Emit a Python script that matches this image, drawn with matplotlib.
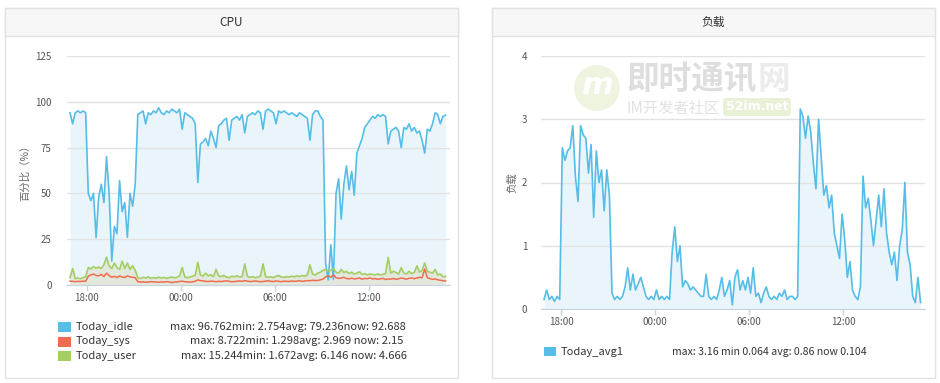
import numpy as np
import pandas as pd
import matplotlib
matplotlib.use('Agg')
from matplotlib import pyplot as plt
from matplotlib import patches
import matplotlib.dates as mdates

plt.rcParams['font.family'] = ['Noto Sans CJK SC', 'DejaVu Sans']

# samples every 10 minutes, 16:55 -> 16:55 next day
times = pd.date_range('2016-05-10 16:55', periods=145, freq='10min')

cpu_idle = [94, 88, 94, 95, 94, 95, 94,
            50, 46, 50, 26, 48, 55, 45, 70, 50, 13, 32, 28, 57, 40, 45, 26, 50, 43, 55,
            93, 94, 95, 88, 94, 93, 95, 94, 96.762, 94, 93, 95, 94, 96, 95, 94, 96,
            85, 94, 93, 92, 91, 88,
            56, 77, 78, 80, 76, 84, 80, 75, 87, 88, 90, 91, 79, 90, 91, 92, 90, 93,
            83, 92, 93, 94, 93, 95, 94, 85, 95, 96, 95, 94, 88, 95, 94, 95, 94, 93, 94, 93, 92, 94, 93, 92, 91,
            79, 93, 95, 95, 92, 90,
            12, 2.754, 22, 3, 50, 58, 36, 55, 65, 52, 62, 49, 72, 76, 80, 86, 88, 90, 92, 91,
            93, 92, 93, 92, 77, 84, 85, 86, 84, 75, 86, 85, 88, 84, 86, 83, 84, 79, 72, 85,
            84, 88, 94, 93, 88, 92, 92.688]

cpu_sys = [2.1, 2.0, 1.8, 2.0, 1.9, 2.1, 2.0,
           4.8, 5.5, 6.0, 5.2, 5.0, 5.8, 4.6, 6.5, 5.2, 4.2, 4.8, 4.0, 5.0, 4.3, 4.1, 5.0, 4.4, 4.2, 4.0,
           1.8, 1.6, 1.7, 1.5, 1.6, 1.8, 1.7, 1.6, 1.5, 1.7,
           1.6, 1.8, 1.7, 1.298, 1.6, 1.7, 1.9, 2.1, 1.8, 1.7,
           1.6, 1.8, 2.0, 2.8, 2.4, 2.2, 2.0, 1.9, 2.1, 2.0,
           1.8, 2.0, 1.9, 2.1, 2.3, 2.0, 1.8, 1.9, 2.0, 2.2,
           2.0, 2.4, 2.1, 1.9, 2.0, 2.2, 2.0, 1.8, 1.9, 2.1,
           2.3, 2.0, 1.9, 2.2, 2.0, 1.8, 2.1, 2.0, 1.9, 2.2,
           2.0, 2.1, 2.3, 2.0, 2.2, 2.4, 2.3, 2.6, 2.4, 2.5, 2.8, 3.2,
           4.5, 5.0, 4.2, 5.5, 4.0, 3.6, 3.8, 4.2, 3.5, 3.4,
           3.7, 3.3, 3.5, 3.8, 3.2, 3.6, 3.4, 3.9, 3.3, 3.5,
           3.1, 3.4, 3.6, 3.0, 3.3, 3.2, 3.6, 3.1, 3.4, 3.8,
           3.5, 3.2, 3.6, 3.9, 3.4, 3.8, 4.2, 3.9, 8.722, 4.0,
           3.5, 3.1, 3.3, 2.8, 2.6, 2.4, 2.15]

cpu_user = [4.0, 9.0, 3.5, 3.8, 3.4, 4.0, 4.5,
            9.5, 8.8, 10.0, 9.2, 9.8, 9.0, 11.0, 15.244, 10.5, 9.0, 12.0, 9.5, 8.5, 13.0, 9.0, 12.0, 8.5, 10.5, 8.0,
            4.0, 3.5, 4.2, 3.8, 4.5, 3.6, 4.0, 3.7, 4.3, 3.8,
            4.1, 3.6, 4.0, 4.4, 3.9, 4.2, 5.0, 9.5, 4.5, 4.0,
            4.3, 4.8, 5.2, 12.4, 5.5, 4.8, 6.5, 5.0, 5.6, 4.5,
            8.5, 5.0, 4.6, 5.2, 4.3, 4.0, 4.8, 4.5, 5.0, 4.4,
            4.6, 11.5, 4.8, 4.2, 4.5, 4.0, 4.3, 4.9, 11.5, 4.6,
            4.2, 4.5, 4.0, 4.8, 5.2, 4.4, 4.1, 4.6, 4.3, 4.8,
            4.5, 5.0, 4.6, 5.2, 4.8, 5.5, 11.0, 6.0, 5.5, 6.5, 7.0, 8.0,
            8.5, 7.5, 8.0, 9.0, 7.0, 6.5, 8.5, 6.8, 7.5, 6.2,
            7.0, 6.0, 6.5, 7.2, 5.8, 6.2, 5.5, 6.0, 5.8, 5.5,
            6.0, 5.6, 5.8, 6.2, 15.0, 6.5, 7.5, 6.8, 6.0, 9.5,
            6.5, 6.0, 7.5, 6.2, 6.8, 10.5, 7.0, 8.0, 12.0, 7.5,
            7.0, 6.5, 8.5, 5.5, 6.0, 4.5, 4.666]

load_avg1 = [0.15, 0.3, 0.15, 0.2, 0.12, 0.2, 0.15,
             2.55, 2.35, 2.5, 2.55, 2.9, 2.1, 1.7, 2.9, 2.75, 2.7, 2.15, 2.6, 1.45, 2.5, 2.0, 2.2, 1.55, 2.2, 1.8,
             0.25, 0.15, 0.2, 0.15, 0.2, 0.35, 0.65, 0.3, 0.55, 0.3, 0.4, 0.5, 0.35, 0.2, 0.15, 0.2,
             0.15, 0.3, 0.15, 0.2, 0.15, 0.2, 0.15,
             0.9, 1.3, 0.75, 1.0, 0.35, 0.45, 0.4, 0.3, 0.35, 0.3,
             0.25, 0.2, 0.2, 0.55, 0.2, 0.15, 0.2, 0.15, 0.3, 0.5,
             0.2, 0.3, 0.45, 0.064, 0.5, 0.62, 0.3, 0.45, 0.3, 0.5,
             0.25, 0.65, 0.2, 0.25, 0.1, 0.25, 0.35, 0.2, 0.15, 0.2,
             0.15, 0.25, 0.2, 0.3, 0.15, 0.2, 0.2, 0.15,
             0.2, 3.16, 3.05, 2.7, 3.05, 2.8, 2.3, 1.9, 3.0, 2.4,
             1.8, 1.95, 1.6, 1.8, 1.2, 1.0, 0.8, 1.5, 1.1, 0.5,
             0.75, 0.3, 0.2, 0.15, 0.35, 2.1, 1.6, 1.75, 1.4, 1.0,
             1.4, 1.8, 1.3, 1.9, 1.2, 0.9, 0.7, 0.9, 0.45, 1.0,
             1.25, 2.0, 0.9, 0.7, 0.2, 0.1, 0.5, 0.104]

tick_times = pd.to_datetime(['2016-05-10 18:00', '2016-05-11 00:00',
                             '2016-05-11 06:00', '2016-05-11 12:00'])
tick_labels = ['18:00', '00:00', '06:00', '12:00']
cpu_yticks = [0, 25, 50, 75, 100, 125]
load_yticks = [0, 1, 2, 3, 4]

cpu_names = ['Today_idle', 'Today_sys', 'Today_user']
cpu_stats = ['max: 96.762min: 2.754avg: 79.236now: 92.688',
             'max: 8.722min: 1.298avg: 2.969 now: 2.15',
             'max: 15.244min: 1.672avg: 6.146 now: 4.666']
load_name = 'Today_avg1'
load_stats = 'max: 3.16 min 0.064 avg: 0.86 now 0.104'

BLUE = '#55bde6'
RED = '#ef6c4f'
GREEN = '#a4cd62'
W, H = 940, 383


def fx(px):
    return px / W


def fy(py):
    return 1 - py / H


fig = plt.figure(figsize=(W / 100, H / 100), dpi=100)


def panel(x0, x1, title):
    fig.patches.append(patches.Rectangle((fx(x0), fy(378)), fx(x1 - x0), (378 - 8) / H, zorder=-5,
                                         transform=fig.transFigure, fc='white', ec='#e2e2e2', lw=1))
    fig.patches.append(patches.Rectangle((fx(x0), fy(36)), fx(x1 - x0), 28 / H, zorder=-4,
                                         transform=fig.transFigure, fc='#f7f7f7', ec='#e2e2e2', lw=1))
    fig.text(fx((x0 + x1) / 2), fy(22), title, ha='center', va='center', fontsize=8.5, color='#333333')


def style_axes(ax, yticks, ylabel, pad):
    ax.set_facecolor('none')
    for s in ['top', 'right', 'left']:
        ax.spines[s].set_visible(False)
    ax.spines['bottom'].set_color('#c8d4e0')
    ax.set_yticks(yticks)
    ax.set_ylim(yticks[0], yticks[-1])
    ax.yaxis.grid(True, color='#e2e2e2', lw=1, zorder=2)
    ax.set_axisbelow(False)
    ax.set_xticks(tick_times)
    ax.set_xticklabels(tick_labels)
    ax.tick_params(axis='y', length=0, pad=pad, labelsize=7, labelcolor='#555555')
    ax.tick_params(axis='x', length=4, width=1, color='#c8d4e0', pad=2, labelsize=7, labelcolor='#555555')
    ax.set_ylabel(ylabel, fontsize=7.5, color='#666666')
    t0 = pd.Timestamp('2016-05-10 18:00')
    ax.set_xlim(t0 - pd.Timedelta(hours=1.276), t0 + pd.Timedelta(hours=23.2))


panel(5, 458, 'CPU')
panel(492, 935, '负载')

# CPU chart
ax1 = fig.add_axes([fx(67), fy(285), fx(450 - 67), (285 - 56) / H])
ax1.fill_between(times, cpu_idle, color='#e9f5fb', lw=0, zorder=1)
ax1.fill_between(times, cpu_user, color='#e3e8dd', lw=0, zorder=1.5)
ax1.plot(times, cpu_idle, color=BLUE, lw=1.2, zorder=3)
ax1.plot(times, cpu_user, color=GREEN, lw=1.2, zorder=4)
ax1.plot(times, cpu_sys, color=RED, lw=1.1, zorder=5)
style_axes(ax1, cpu_yticks, '百分比（%）', 11)
ax1.yaxis.set_label_coords(fx(30 - 67) / fx(450 - 67), 0.5)

# load chart
ax2 = fig.add_axes([fx(541), fy(309), fx(925 - 541), (309 - 56) / H])
ax2.fill_between(times, load_avg1, color='#e9f5fb', lw=0, zorder=1)
ax2.plot(times, load_avg1, color=BLUE, lw=1.2, zorder=3)
style_axes(ax2, load_yticks, '负载', 10)
ax2.yaxis.set_label_coords(fx(517 - 541) / fx(925 - 541), 0.5)

# legends
colors = [BLUE, RED, GREEN]
rows = [327, 341.5, 356]
stat_x = [170, 190, 181]
for name, stat, c, ry, sx in zip(cpu_names, cpu_stats, colors, rows, stat_x):
    fig.patches.append(patches.Rectangle((fx(58), fy(ry + 5)), fx(13), 10 / H,
                                         transform=fig.transFigure, fc=c, ec='none'))
    fig.text(fx(76), fy(ry), name, ha='left', va='center', fontsize=8, color='#333333')
    fig.text(fx(sx), fy(ry), stat, ha='left', va='center', fontsize=8, color='#333333')

fig.patches.append(patches.Rectangle((fx(544), fy(356)), fx(12), 9 / H,
                                     transform=fig.transFigure, fc=BLUE, ec='none'))
fig.text(fx(561), fy(352), load_name, ha='left', va='center', fontsize=8, color='#333333')
fig.text(fx(672), fy(352), load_stats, ha='left', va='center', fontsize=7.55, color='#333333')

# watermark
fig.patches.append(patches.Ellipse((fx(597), fy(88)), fx(46), 46 / H, transform=fig.transFigure,
                                   fc='#eef4e0', ec='none', zorder=6))
fig.text(fx(597), fy(86), 'm', ha='center', va='center', fontsize=22, color='white',
         style='italic', fontweight='bold', family='DejaVu Sans', zorder=7)
fig.text(fx(627), fy(80), '即时通讯', ha='left', va='center', fontsize=23.5, fontweight='bold',
         color='#dedede', zorder=7)
fig.text(fx(758), fy(80), '网', ha='left', va='center', fontsize=23.5, fontweight='bold',
         color='#ececec', zorder=7)
fig.text(fx(627), fy(108), 'IM开发者社区', ha='left', va='center', fontsize=11,
         color='#e2e2e2', zorder=7)
fig.text(fx(757), fy(107), '52im.net', ha='center', va='center', fontsize=9, fontweight='bold',
         color='white', family='DejaVu Sans', zorder=8,
         bbox=dict(boxstyle='round,pad=0.2', fc='#e8f1d6', ec='none'))

fig.savefig('out.png', dpi=100)
